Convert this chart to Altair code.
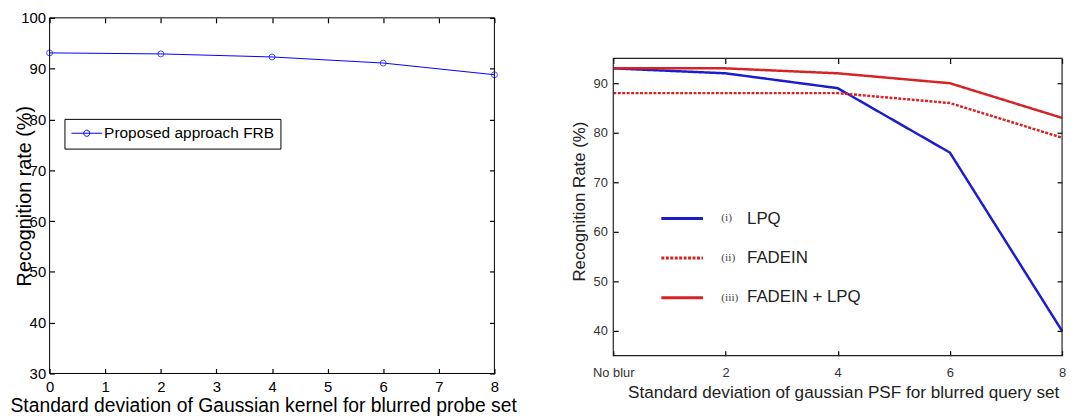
import altair as alt
import pandas as pd

FONT = "Liberation Sans"
SERIF = "Liberation Serif"

# ---------------- Left panel data ----------------
left_sigma = [0, 2, 4, 6, 8]
left_rate = [93.1, 92.9, 92.3, 91.1, 88.8]
left_series = "Proposed approach FRB"
left_x_ticks = [0, 1, 2, 3, 4, 5, 6, 7, 8]
left_y_ticks = [30, 40, 50, 60, 70, 80, 90, 100]
left_x_domain = [0, 8]
left_y_domain = [30, 100]

# ---------------- Right panel data ----------------
right_sigma = [0, 2, 4, 6, 8]
lpq = [93.0, 92.0, 89.0, 76.0, 40.0]
fadein = [88.0, 88.0, 88.0, 86.0, 79.0]
fadein_lpq = [93.0, 93.0, 92.0, 90.0, 83.0]
right_series = ["LPQ", "FADEIN", "FADEIN + LPQ"]
right_numerals = ["(i)", "(ii)", "(iii)"]
right_x_ticks = [0, 2, 4, 6, 8]
right_x_labels = ["No blur", "2", "4", "6", "8"]
right_y_ticks = [40, 50, 60, 70, 80, 90]
right_x_domain = [0, 8]
right_box_y = [35, 95]
right_y_domain = [35, 103.2]

BLUE_L = "#0000ff"
BLUE_R = "#1c1ccf"
RED_R = "#d42424"

LW, LH = 449, 359
RW, RH = 453, 341


def tick_axis(orient, offset, values, color="black", width=1.2):
    return alt.Axis(orient=orient, offset=offset, values=values, labels=False,
                    ticks=True, tickSize=5, tickColor=color, tickWidth=width,
                    domain=False, grid=False, title=None)


# ---------------- Left chart ----------------
left_df = pd.DataFrame({"sigma": left_sigma, "rate": left_rate,
                        "method": [left_series] * len(left_sigma)})
left_box = pd.DataFrame({"x0": [left_x_domain[0]], "x1": [left_x_domain[1]],
                         "y0": [left_y_domain[0]], "y1": [left_y_domain[1]]})

lxs = alt.Scale(domain=left_x_domain, nice=False, zero=False)
lys = alt.Scale(domain=left_y_domain, nice=False, zero=False)

left_legend = alt.Legend(
    orient="none", legendX=15, legendY=102, title=None,
    strokeColor="black", fillColor="white", padding=6,
    symbolType="M-2,0H2M-0.4,0A0.4,0.4,0,1,1,0.4,0A0.4,0.4,0,1,1,-0.4,0",
    symbolSize=240, symbolOffset=8, symbolStrokeWidth=1,
    symbolFillColor="transparent",
    labelFont=FONT, labelFontSize=15.6, labelColor="black", labelOffset=9,
    labelLimit=400,
)

l_line = alt.Chart(left_df).mark_line(strokeWidth=1).encode(
    x=alt.X("sigma:Q", scale=lxs, axis=alt.Axis(
        orient="bottom", values=left_x_ticks, ticks=False, domain=False, grid=False,
        labelFont=FONT, labelFontSize=15, labelColor="black", labelPadding=6,
        labelFlush=False, labelOverlap=False,
        title="Standard deviation of Gaussian kernel for blurred probe set",
        titleFont=FONT, titleFontSize=19.5, titleFontWeight="normal", titleColor="black",
        titleX=215.5, titleY=38, titleAlign="center", titleBaseline="alphabetic")),
    y=alt.Y("rate:Q", scale=lys, axis=alt.Axis(
        orient="left", values=left_y_ticks, ticks=False, domain=False, grid=False,
        labelFont=FONT, labelFontSize=15, labelColor="black", labelPadding=4,
        labelFlush=False, labelOverlap=False,
        title="Recognition rate (%)",
        titleFont=FONT, titleFontSize=20, titleFontWeight="normal", titleColor="black",
        titleX=-19, titleY=179.5, titleAngle=270, titleAlign="center",
        titleBaseline="alphabetic")),
    color=alt.Color("method:N", scale=alt.Scale(domain=[left_series], range=[BLUE_L]),
                    legend=left_legend),
)

l_pts = alt.Chart(left_df).mark_point(shape="circle", filled=False, size=36,
                                      color=BLUE_L, strokeWidth=1).encode(
    x=alt.X("sigma:Q", scale=lxs, axis=tick_axis("top", -LH, left_x_ticks)),
    y=alt.Y("rate:Q", scale=lys, axis=tick_axis("right", -LW, left_y_ticks)),
)

l_box = alt.Chart(left_box).mark_rect(fillOpacity=0, stroke="black", strokeWidth=1).encode(
    x=alt.X("x0:Q", scale=lxs, axis=tick_axis("bottom", -LH, left_x_ticks)),
    x2="x1:Q",
    y=alt.Y("y0:Q", scale=lys, axis=tick_axis("left", -LW, left_y_ticks)),
    y2="y1:Q",
)

left = alt.layer(l_line, l_pts, l_box).resolve_axis(x="independent", y="independent") \
    .properties(width=LW, height=LH)

# ---------------- Right chart ----------------
rows = []
for name, vals in zip(right_series, [lpq, fadein, fadein_lpq]):
    for s, v in zip(right_sigma, vals):
        rows.append({"sigma": s, "rate": v, "series": name, "name": name})
right_df = pd.DataFrame(rows)
right_box = pd.DataFrame({"x0": [right_x_domain[0]], "x1": [right_x_domain[1]],
                          "y0": [right_box_y[0]], "y1": [right_box_y[1]]})

rxs = alt.Scale(domain=right_x_domain, nice=False, zero=False)
rys = alt.Scale(domain=right_y_domain, nice=False, zero=False)

num_expr = " : ".join(
    f"datum.label == '{s}' ? '{n}'" for s, n in zip(right_series[:-1], right_numerals[:-1])
) + f" : '{right_numerals[-1]}'"
xlab_expr = " : ".join(
    f"datum.value == {v} ? '{l}'" for v, l in zip(right_x_ticks[:-1], right_x_labels[:-1])
) + f" : '{right_x_labels[-1]}'"

leg1 = alt.Legend(
    orient="none", legendX=47, legendY=180, title=None, padding=0,
    symbolType="stroke", symbolSize=1764, symbolStrokeWidth=3,
    labelExpr=num_expr, labelFont=SERIF, labelFontSize=11.5, labelColor="#444",
    labelOffset=17, rowPadding=11,
)

r_line = alt.Chart(right_df).mark_line(strokeWidth=2.5).encode(
    x=alt.X("sigma:Q", scale=rxs, axis=alt.Axis(
        orient="bottom", values=right_x_ticks, ticks=False, domain=False, grid=False,
        labelExpr=xlab_expr, labelFont=FONT, labelFontSize=13, labelColor="#333",
        labelPadding=11, labelFlush=False, labelOverlap=False,
        title="Standard deviation of gaussian PSF for blurred query set",
        titleFont=FONT, titleFontSize=17.3, titleFontWeight="normal", titleColor="#222",
        titleX=232, titleY=42, titleAlign="center", titleBaseline="alphabetic")),
    y=alt.Y("rate:Q", scale=rys, axis=alt.Axis(
        orient="left", values=right_y_ticks, ticks=False, domain=False, grid=False,
        labelFont=FONT, labelFontSize=13, labelColor="#333", labelPadding=6,
        labelFlush=False, labelOverlap=False,
        title="Recognition Rate (%)",
        titleFont=FONT, titleFontSize=17, titleFontWeight="normal", titleColor="#222",
        titleX=-29, titleY=185, titleAngle=270, titleAlign="center",
        titleBaseline="alphabetic")),
    color=alt.Color("series:N", scale=alt.Scale(domain=right_series,
                                                range=[BLUE_R, RED_R, RED_R]), legend=leg1),
    strokeDash=alt.StrokeDash("series:N", scale=alt.Scale(
        domain=right_series, range=[[1, 0], [3, 1.5], [1, 0]]), legend=leg1),
)

r_box = alt.Chart(right_box).mark_rect(fillOpacity=0, stroke="#222", strokeWidth=1.2).encode(
    x=alt.X("x0:Q", scale=rxs, axis=tick_axis("top", -RH, right_x_ticks)),
    x2="x1:Q",
    y=alt.Y("y0:Q", scale=rys, axis=tick_axis("right", -RW, right_y_ticks)),
    y2="y1:Q",
)

leg2 = alt.Legend(
    orient="none", legendX=118, legendY=195, title=None, padding=0,
    symbolOpacity=0, symbolSize=4, labelFont=FONT, labelFontSize=17,
    labelColor="#222", labelOffset=0, rowPadding=21, labelLimit=400,
)

r_names = alt.Chart(right_df).mark_point(size=0, opacity=0).encode(
    x=alt.X("sigma:Q", scale=rxs, axis=tick_axis("bottom", -(RH - 41), right_x_ticks)),
    y=alt.Y("rate:Q", scale=rys, axis=tick_axis("left", -RW, right_y_ticks)),
    shape=alt.Shape("name:N", sort=right_series, legend=leg2),
)

right = alt.layer(r_line, r_box, r_names).resolve_axis(x="independent", y="independent") \
    .properties(width=RW, height=RH)

chart = alt.hconcat(left, right, spacing=120, bounds="flush").resolve_scale(
    color="independent", strokeDash="independent", shape="independent"
).properties(
    padding={"left": 1, "top": 0, "right": 0, "bottom": 0}
).configure_view(stroke="transparent")

chart.save("out.html", embed_options={"renderer": "svg", "actions": False})
